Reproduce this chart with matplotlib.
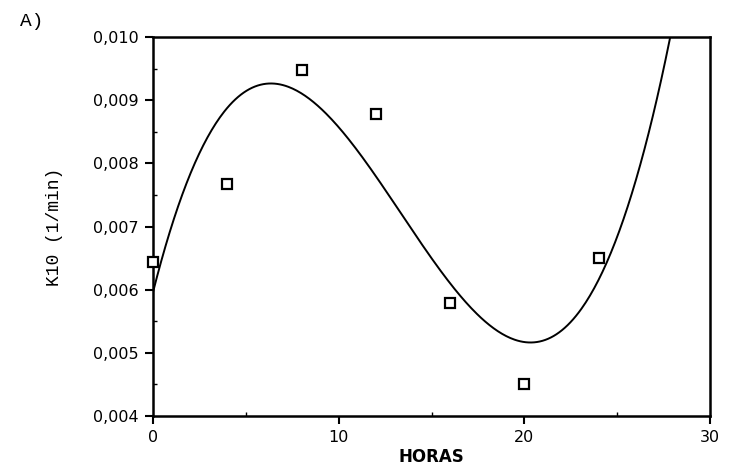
import matplotlib
matplotlib.use("Agg")
import matplotlib.pyplot as plt
import numpy as np
from matplotlib.ticker import FixedLocator, FuncFormatter

# sampling times (h) and elimination constant K10 (1/min)
hours = [0, 4, 8, 12, 16, 20, 24]
k10 = [0.00644, 0.00767, 0.00948, 0.00878, 0.00579, 0.00451, 0.00650]

y_ticks = [0.004, 0.005, 0.006, 0.007, 0.008, 0.009, 0.010]
x_ticks = [0, 10, 20, 30]

fig = plt.figure(figsize=(7.31, 4.74), dpi=100)
ax = fig.add_axes([0.2093, 0.1224, 0.762, 0.7995])

# third-degree polynomial regression over the measured points
coef = np.polyfit(hours, k10, 3)
xs = np.linspace(0, 30, 400)
ys = np.polyval(coef, xs)
ax.plot(xs, ys, color="black", lw=1.4, clip_on=True)

ax.plot(hours, k10, ls="none", marker="s", ms=7, mfc="white",
        mec="black", mew=1.6, clip_on=False, zorder=3)

ax.set_xlim(0, 30)
ax.set_ylim(0.004, 0.010)
ax.xaxis.set_major_locator(FixedLocator(x_ticks))
ax.yaxis.set_major_locator(FixedLocator(y_ticks))
ax.xaxis.set_minor_locator(FixedLocator([5, 15, 25]))
ax.yaxis.set_minor_locator(FixedLocator([0.0045, 0.0055, 0.0065, 0.0075, 0.0085, 0.0095]))
ax.yaxis.set_major_formatter(FuncFormatter(lambda v, _: f"{v:.3f}".replace(".", ",")))

for lab in ax.get_xticklabels() + ax.get_yticklabels():
    lab.set_fontfamily("DejaVu Sans")
    lab.set_fontsize(11.5)
ax.tick_params(which="major", direction="out", length=6, width=1.5, pad=4)
ax.tick_params(which="minor", direction="in", length=3, width=1.0)

for sp in ax.spines.values():
    sp.set_linewidth(1.8)

ax.set_ylabel("K10 (1/min)", family="Liberation Mono", fontsize=13, labelpad=22)
ax.set_xlabel("HORAS", family=["Liberation Sans Narrow", "DejaVu Sans"],
              fontweight="bold", fontsize=12, labelpad=2)
fig.text(0.027, 0.972, "A)", family="Liberation Mono", fontsize=14, va="top")

fig.savefig("out.png", dpi=100)
